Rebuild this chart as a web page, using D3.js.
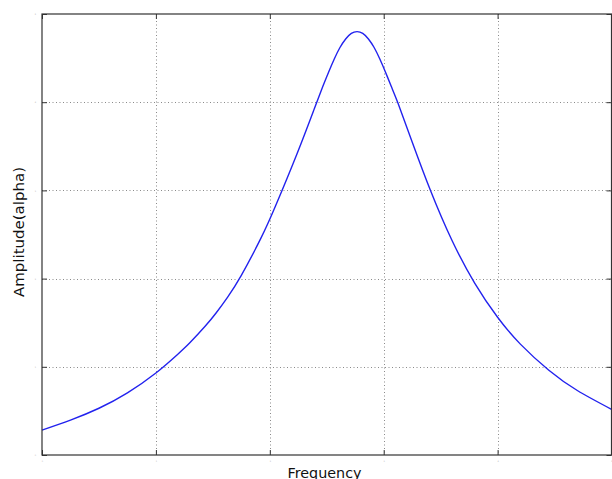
<!DOCTYPE html>
<html>
<head>
<meta charset="utf-8">
<script src="https://cdn.jsdelivr.net/npm/d3@7"></script>
<style>
  html, body { margin: 0; padding: 0; background: #fff; }
  svg { display: block; }
</style>
</head>
<body>
<svg id="chart" width="612" height="479"></svg>
<script>
// Data (frequency in grid units, amplitude in grid units)
const freq = [0, 0.25, 0.5, 0.75, 1.0, 1.19, 1.3, 1.43, 1.53, 1.63, 1.75, 1.92, 2.05, 2.24, 2.39, 2.466, 2.516, 2.566, 2.616, 2.666, 2.716, 2.766, 2.816, 2.866, 2.916, 2.966, 3.016, 3.066, 3.125, 3.25, 3.41, 3.6, 3.8, 4.0, 4.2, 4.45, 4.7, 5.0];
const amplitude = [0.283, 0.396, 0.53, 0.705, 0.93, 1.14, 1.275, 1.456, 1.613, 1.791, 2.037, 2.453, 2.823, 3.419, 3.923, 4.18, 4.34, 4.49, 4.62, 4.717, 4.78, 4.80, 4.78, 4.717, 4.62, 4.49, 4.34, 4.18, 3.99, 3.55, 3.002, 2.432, 1.947, 1.562, 1.257, 0.961, 0.731, 0.518];
const xTicks = [0, 1, 2, 3, 4, 5];
const yTicks = [0, 1, 2, 3, 4, 5];
const xTickLabels = ["0", "1", "2", "3", "4", "5"];
const yTickLabels = ["0", "1", "2", "3", "4", "5"];
const xLabel = "Frequency";
const yLabel = "Amplitude(alpha)";

const svg = d3.select("#chart");
const margin = { left: 42, top: 14, right: 0.5, bottom: 24 };
const W = 612, H = 479;
const x0 = margin.left, x1 = W - margin.right;
const y0 = margin.top, y1 = H - margin.bottom;

const x = d3.scaleLinear().domain([0, 5]).range([x0, x1]);
const y = d3.scaleLinear().domain([0, 5]).range([y1, y0]);

// Grid
const grid = svg.append("g").attr("stroke", "#8a8a8a").attr("stroke-width", 1).attr("stroke-dasharray", "1,2.5");
grid.selectAll("line.v").data(xTicks.slice(1, -1)).join("line")
  .attr("x1", d => Math.round(x(d)) + 0.5).attr("x2", d => Math.round(x(d)) + 0.5)
  .attr("y1", y0).attr("y2", y1);
grid.selectAll("line.h").data(yTicks.slice(1, -1)).join("line")
  .attr("y1", d => Math.round(y(d)) + 0.5).attr("y2", d => Math.round(y(d)) + 0.5)
  .attr("x1", x0).attr("x2", x1);

// Curve
const line = d3.line().x((d, i) => x(freq[i])).y(d => y(d)).curve(d3.curveNatural);
svg.append("path").datum(amplitude)
  .attr("d", line).attr("fill", "none").attr("stroke", "#2222ee").attr("stroke-width", 1.4);

// Axes with inward ticks
const tickFmt = (labels, ticks) => (d) => labels[ticks.indexOf(d)];
const axB = d3.axisBottom(x).tickValues(xTicks).tickSize(-5).tickPadding(6).tickFormat(tickFmt(xTickLabels, xTicks));
const axL = d3.axisLeft(y).tickValues(yTicks).tickSize(-5).tickPadding(6).tickFormat(tickFmt(yTickLabels, yTicks));
const axT = d3.axisTop(x).tickValues(xTicks).tickSize(-5).tickFormat("");
const axR = d3.axisRight(y).tickValues(yTicks).tickSize(-5).tickFormat("");

function styleAxis(g) {
  g.select(".domain").remove();
  g.selectAll(".tick line").attr("stroke", "#333").attr("stroke-width", 1);
  g.selectAll(".tick text").attr("font-size", 2).attr("fill", "#aaa").attr("font-family", "DejaVu Sans");
}
svg.append("g").attr("transform", `translate(0,${y1})`).call(axB).call(styleAxis);
svg.append("g").attr("transform", `translate(${x0},0)`).call(axL).call(styleAxis);
svg.append("g").attr("transform", `translate(0,${y0})`).call(axT).call(styleAxis);
svg.append("g").attr("transform", `translate(${x1},0)`).call(axR).call(styleAxis);

// Frame
svg.append("rect").attr("x", x0).attr("y", y0).attr("width", x1 - x0).attr("height", y1 - y0)
  .attr("fill", "none").attr("stroke", "#333").attr("stroke-width", 1.2);

// Labels
svg.append("text").attr("x", 324.5).attr("y", 477.5).attr("text-anchor", "middle")
  .attr("font-family", "DejaVu Sans, sans-serif").attr("font-size", 13.5).attr("fill", "#111")
  .attr("textLength", 74).attr("lengthAdjust", "spacingAndGlyphs").text(xLabel);
svg.append("text").attr("transform", `translate(23.6,232) rotate(-90)`).attr("text-anchor", "middle")
  .attr("font-family", "DejaVu Sans, sans-serif").attr("font-size", 13.5).attr("fill", "#111")
  .attr("textLength", 130).attr("lengthAdjust", "spacingAndGlyphs").text(yLabel);
</script>
</body>
</html>
